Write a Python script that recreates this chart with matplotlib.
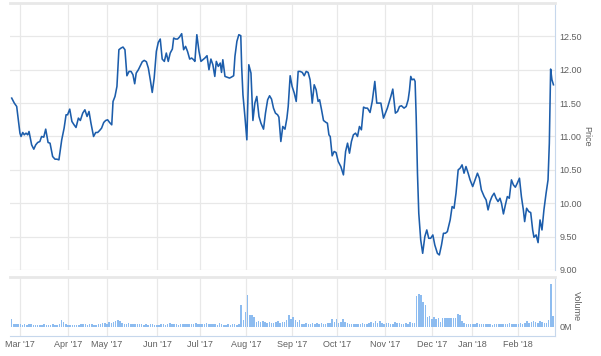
import numpy as np
import matplotlib.pyplot as plt

# price data, x is trading day counted from the first point (22 Feb 2017)
days = [0, 1.2, 2.3, 3.8, 4.3, 5.1, 5.8, 6.6, 7.4, 8.0, 9.2, 10.2, 11.1, 12.0, 13.0, 13.8, 14.8, 15.7,
        16.8, 17.7, 18.9, 20.0, 20.9, 21.8, 23.1, 24.2, 25.1, 25.8, 26.8, 27.8, 28.8, 29.7, 30.8, 31.7,
        32.8, 33.8,
        34.8, 35.7, 36.6, 37.8, 38.8, 39.7, 40.6, 41.5, 42.5, 43.4, 44.3, 45.2, 46.2, 46.8, 47.7, 48.6,
        49.5, 50.5, 51.4, 52.3, 53.2, 54.2, 55.1, 56.0, 56.8, 57.5, 58.5, 59.4, 60.3, 61.2, 62.2, 63.1,
        64.0, 64.9, 65.8, 66.8, 67.7, 68.6, 69.5,
        70.5, 71.4, 72.3, 73.2, 74.2, 74.8, 75.7, 76.6, 77.5, 78.5, 79.4, 80.3, 81.2, 82.2, 83.1, 84.0,
        84.6, 85.5, 86.5, 87.4, 88.3, 89.2, 90.2, 91.1, 92.0, 92.9, 93.8, 94.5, 95.4, 96.3, 96.9, 97.5,
        98.5, 99.7, 100.6, 101.5, 102.5, 103.1, 104.0, 104.9, 105.8,
        106.2, 106.8, 107.7, 108.6, 109.5, 110.5, 111.4, 112.3, 113.2, 114.2, 115.1, 116.3, 117.2, 118.2,
        119.1, 120.0, 120.9, 121.8, 122.8, 123.4, 124.3, 125.2, 126.2, 127.1, 127.7, 128.6, 129.5, 130.5,
        131.4, 132.3, 133.2, 134.2, 135.1, 136.0, 136.9, 137.8, 138.8, 139.7, 140.6, 141.5,
        142.2, 143.1, 144.0, 145.2, 145.8, 146.5, 147.1, 148.0, 148.9, 149.8, 150.8, 152.0, 153.2, 154.2,
        155.1, 156.0, 156.9, 157.8, 158.8, 159.7, 160.6, 161.5, 162.5, 163.4, 164.3, 165.5, 166.5, 167.7,
        168.6, 169.5, 170.5, 171.7, 172.6, 173.5, 175.1, 176.0, 177.2,
        178.2, 179.1, 180.0, 181.2, 182.2, 183.1, 183.7, 184.3, 184.9, 185.8, 186.3, 186.8, 187.4, 188.0,
        188.9, 189.8, 190.8, 191.7, 192.6, 193.5, 194.5, 195.4, 196.6, 197.5, 198.5, 199.4, 200.3, 201.2,
        202.5, 203.4, 204.3, 205.2, 206.2, 207.1, 208.0, 208.9, 209.8, 210.8, 211.7, 212.9,
        215.1, 216.0, 216.9, 218.2, 219.1, 220.0, 220.9, 221.8, 222.8, 223.7, 224.6, 225.5, 226.2, 227.1,
        228.0, 228.9, 229.8, 230.8, 231.7, 232.6, 233.5, 234.5, 235.4, 236.3, 236.9, 237.8, 238.8, 239.7,
        240.6, 241.2, 242.2, 243.1, 244.0, 244.9, 245.8, 246.8, 247.7, 248.3, 248.9, 249.5, 250.2]

prices = [11.575, 11.50, 11.45, 11.05, 11.00, 11.06, 11.025, 11.05, 11.025, 11.075, 10.875, 10.81, 10.875,
          10.91, 10.925, 11.00, 10.99, 11.11, 10.91, 10.90, 10.70, 10.66, 10.66, 10.65, 10.95, 11.125,
          11.325, 11.325, 11.41, 11.225, 11.175, 11.135, 11.275, 11.24, 11.35, 11.40,
          11.30, 11.375, 11.20, 11.00, 11.06, 11.06, 11.09, 11.125, 11.21, 11.24, 11.25, 11.21, 11.175,
          11.525, 11.60, 11.75, 12.30, 12.325, 12.34, 12.30, 11.91, 11.975, 11.975, 11.925, 11.79, 11.95,
          12.00, 12.06, 12.12, 12.14, 12.12, 12.025, 11.85, 11.66, 11.875, 12.275, 12.41, 12.46, 12.16,
          12.125, 12.25, 12.125, 12.25, 12.31, 12.475, 12.46, 12.46, 12.49, 12.54, 12.30, 12.35, 12.275,
          12.16, 12.175, 12.15, 12.125, 12.525, 12.275, 12.125, 12.15, 12.175, 12.21, 12.00, 12.16, 12.075,
          11.90, 12.125, 12.05, 12.10, 11.96, 12.15, 11.90, 11.885, 11.875, 11.89, 11.91, 12.20, 12.425,
          12.525, 12.51,
          12.05, 11.625, 11.30, 10.95, 12.075, 11.95, 11.24, 11.50, 11.60, 11.30, 11.20, 11.11, 11.35,
          11.55, 11.61, 11.56, 11.425, 11.35, 11.325, 11.29, 10.925, 11.15, 11.11, 11.275, 11.45, 11.91,
          11.75, 11.65, 11.525, 11.975, 11.975, 11.96, 11.91, 11.975, 11.96, 11.85, 11.50, 11.775, 11.70,
          11.525,
          11.55, 11.40, 11.24, 11.21, 11.20, 11.025, 11.00, 10.71, 10.775, 10.76, 10.625, 10.55, 10.425,
          10.775, 10.90, 10.75, 10.925, 11.025, 11.05, 11.00, 11.15, 11.10, 11.44, 11.425, 11.425, 11.36,
          11.525, 11.825, 11.50, 11.50, 11.50, 11.275, 11.35, 11.425, 11.60, 11.71, 11.35,
          11.375, 11.45, 11.46, 11.425, 11.45, 11.55, 11.69, 11.90, 11.85, 11.86, 11.825, 11.30, 10.45,
          9.85, 9.45, 9.25, 9.50, 9.60, 9.475, 9.475, 9.525, 9.375, 9.25, 9.225, 9.375, 9.55, 9.55, 9.575,
          9.75, 9.95, 9.925, 10.15, 10.50, 10.525, 10.575, 10.45, 10.55, 10.45, 10.35, 10.25,
          10.45, 10.375, 10.20, 10.10, 10.05, 9.90, 10.025, 10.10, 10.15, 10.075, 10.025, 10.075, 10.00,
          9.84, 9.975, 10.10, 10.075, 10.35, 10.275, 10.24, 10.30, 10.375, 10.10, 9.90, 9.725, 9.925,
          9.875, 9.86, 9.60, 9.49, 9.525, 9.41, 9.75, 9.60, 9.90, 10.15, 10.35, 10.90, 12.01, 11.85, 11.775]

# volume per trading day, millions
volume = [0.76, 0.30, 0.28, 0.25, 0.28, 0.22, 0.25, 0.20, 0.28, 0.25,
          0.22, 0.18, 0.20, 0.15, 0.20, 0.25, 0.18, 0.22, 0.15, 0.30,
          0.22, 0.20, 0.25, 0.67, 0.45, 0.30, 0.22, 0.18, 0.15, 0.20,
          0.18, 0.22, 0.28, 0.25, 0.30, 0.22, 0.28, 0.25, 0.18, 0.22,
          0.30, 0.25, 0.35, 0.38, 0.30, 0.42, 0.35, 0.45, 0.50, 0.60,
          0.55, 0.35, 0.30, 0.28, 0.32, 0.25, 0.30, 0.28, 0.25, 0.30,
          0.28, 0.22, 0.25, 0.20, 0.30, 0.25, 0.18, 0.22, 0.20, 0.25,
          0.30, 0.22, 0.25, 0.35, 0.28, 0.25, 0.30, 0.22, 0.25, 0.28,
          0.30, 0.25, 0.28, 0.30, 0.25, 0.32, 0.28, 0.25, 0.30, 0.28,
          0.35, 0.25, 0.30, 0.28, 0.25, 0.22, 0.35, 0.25, 0.20, 0.22,
          0.25, 0.22, 0.30, 0.25, 0.20, 0.28, 2.00, 0.60, 1.35, 2.95,
          1.06, 1.10, 0.90, 0.45, 0.50, 0.45, 0.50, 0.45, 0.40, 0.42,
          0.40, 0.38, 0.45, 0.50, 0.40, 0.42, 0.45, 0.60, 1.06, 0.75,
          0.90, 0.60, 0.45, 0.60, 0.30, 0.25, 0.35, 0.30, 0.28, 0.35,
          0.30, 0.35, 0.28, 0.35, 0.30, 0.28, 0.40, 0.35, 0.76, 0.45,
          0.76, 0.40, 0.45, 0.76, 0.45, 0.35, 0.30, 0.28, 0.30, 0.25,
          0.30, 0.28, 0.35, 0.30, 0.28, 0.40, 0.45, 0.35, 0.55, 0.40,
          0.50, 0.35, 0.30, 0.40, 0.35, 0.30, 0.28, 0.45, 0.40, 0.35,
          0.30, 0.28, 0.35, 0.30, 0.45, 0.40, 0.35, 2.80, 3.00, 2.90,
          2.30, 2.00, 0.90, 0.97, 0.76, 0.90, 0.70, 0.85, 0.45, 0.80,
          0.80, 0.82, 0.80, 0.80, 0.78, 0.82, 1.20, 1.06, 0.55, 0.40,
          0.30, 0.28, 0.25, 0.30, 0.28, 0.35, 0.30, 0.25, 0.28, 0.30,
          0.25, 0.30, 0.22, 0.28, 0.25, 0.30, 0.28, 0.25, 0.30, 0.28,
          0.32, 0.28, 0.25, 0.30, 0.28, 0.35, 0.30, 0.40, 0.55, 0.35,
          0.45, 0.50, 0.45, 0.40, 0.50, 0.45, 0.35, 0.40, 0.60, 3.90,
          1.00]

# first trading day of each month, in the same day units
month_pos = [3.8, 26.2, 44.0, 67.1, 86.9, 108.3, 129.5, 150.2, 172.5, 194.3, 212.6, 233.8]
month_labels = ["Mar '17", "Apr '17", "May '17", "Jun '17", "Jul '17", "Aug '17",
                "Sep '17", "Oct '17", "Nov '17", "Dec '17", "Jan '18", "Feb '18"]
price_ticks = [9.0, 9.5, 10.0, 10.5, 11.0, 11.5, 12.0, 12.5]

plt.rcParams['font.family'] = ['Liberation Sans', 'DejaVu Sans']

line_col = '#1c5dab'
bar_col = '#8dbcf0'
grid_col = '#e8e8e8'
axis_blue = '#c6d7ec'
text_col = '#606060'

fig = plt.figure(figsize=(6.01, 3.56), dpi=100)
ax = fig.add_axes([0.0166, 0.2416, 0.9068, 0.75])
axv = fig.add_axes([0.0166, 0.0562, 0.9068, 0.1657])

# price panel
ax.plot(days, prices, color=line_col, linewidth=1.15)
ax.set_xlim(-0.8, 250.9)
ax.set_ylim(9.0, 13.0)
ax.set_xticks(month_pos)
ax.set_xticklabels([])
ax.set_yticks(price_ticks)
ax.set_yticklabels(['%.2f' % p for p in price_ticks])
ax.yaxis.tick_right()
ax.yaxis.set_label_position('right')
ax.set_ylabel('Price', rotation=270, color=text_col, fontsize=6.5, labelpad=7)
ax.grid(True, color=grid_col, linewidth=0.9)
ax.tick_params(length=0, labelsize=6.5, labelcolor=text_col, pad=3)
for s in ['left', 'bottom']:
    ax.spines[s].set_visible(False)
ax.spines['top'].set_color(grid_col)
ax.spines['top'].set_linewidth(2)
ax.spines['right'].set_color(axis_blue)

# volume panel
axv.bar(np.arange(len(volume)), volume, width=0.7, color=bar_col, linewidth=0)
axv.set_xlim(-0.8, 250.9)
axv.set_ylim(-0.82, 4.55)
axv.set_xticks(month_pos)
axv.set_xticklabels(month_labels)
axv.set_yticks([0])
axv.set_yticklabels(['0M'])
axv.yaxis.tick_right()
axv.yaxis.set_label_position('right')
axv.set_ylabel('Volume', rotation=270, color=text_col, fontsize=6.5, labelpad=7)
axv.grid(True, axis='x', color=grid_col, linewidth=0.9)
axv.set_axisbelow(True)
axv.tick_params(length=0, labelsize=6.5, labelcolor=text_col, pad=3)
axv.spines['left'].set_visible(False)
axv.spines['top'].set_color(grid_col)
axv.spines['top'].set_linewidth(2)
axv.spines['right'].set_color(axis_blue)
axv.spines['bottom'].set_color(axis_blue)

plt.savefig('out.png', dpi=100)
